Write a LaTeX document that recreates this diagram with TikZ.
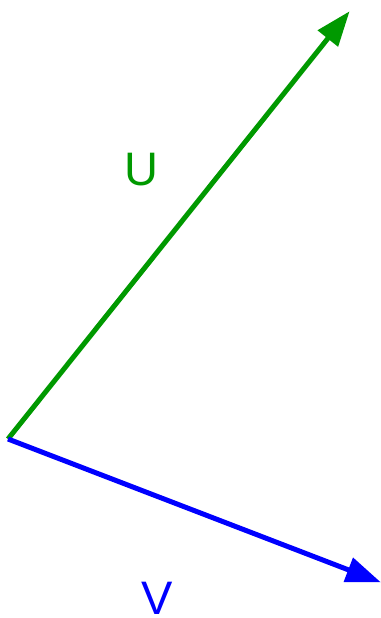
\documentclass[tikz,border=0pt]{standalone}
\usepackage{fontspec}
\setmainfont{Liberation Sans}
\usetikzlibrary{arrows.meta}
\definecolor{ucolor}{HTML}{009900}
\definecolor{vcolor}{HTML}{0000FF}
\tikzstyle{vecarrow} = [line width=5pt, -{Triangle[length=35pt,width=25pt]}]
\tikzstyle{veclabel} = [font=\fontsize{47}{47}\selectfont, inner sep=0pt]

\begin{document}
\begin{tikzpicture}[x=1pt,y=-1pt]
    \useasboundingbox (0,0) rectangle (380,618);
    \coordinate (origin) at (8,439);
    \coordinate (utip) at (349,12);
    \coordinate (vtip) at (380,582);
    \draw[vecarrow,ucolor,shorten >=-1pt] (origin) -- (utip);
    \draw[vecarrow,vcolor,shorten >=-1pt] (origin) -- (vtip);
    \node[veclabel,text=ucolor] (ulabel) at (141.5,170) {U};
    \node[veclabel,text=vcolor] (vlabel) at (157.5,598.5) {V};
\end{tikzpicture}
\end{document}
